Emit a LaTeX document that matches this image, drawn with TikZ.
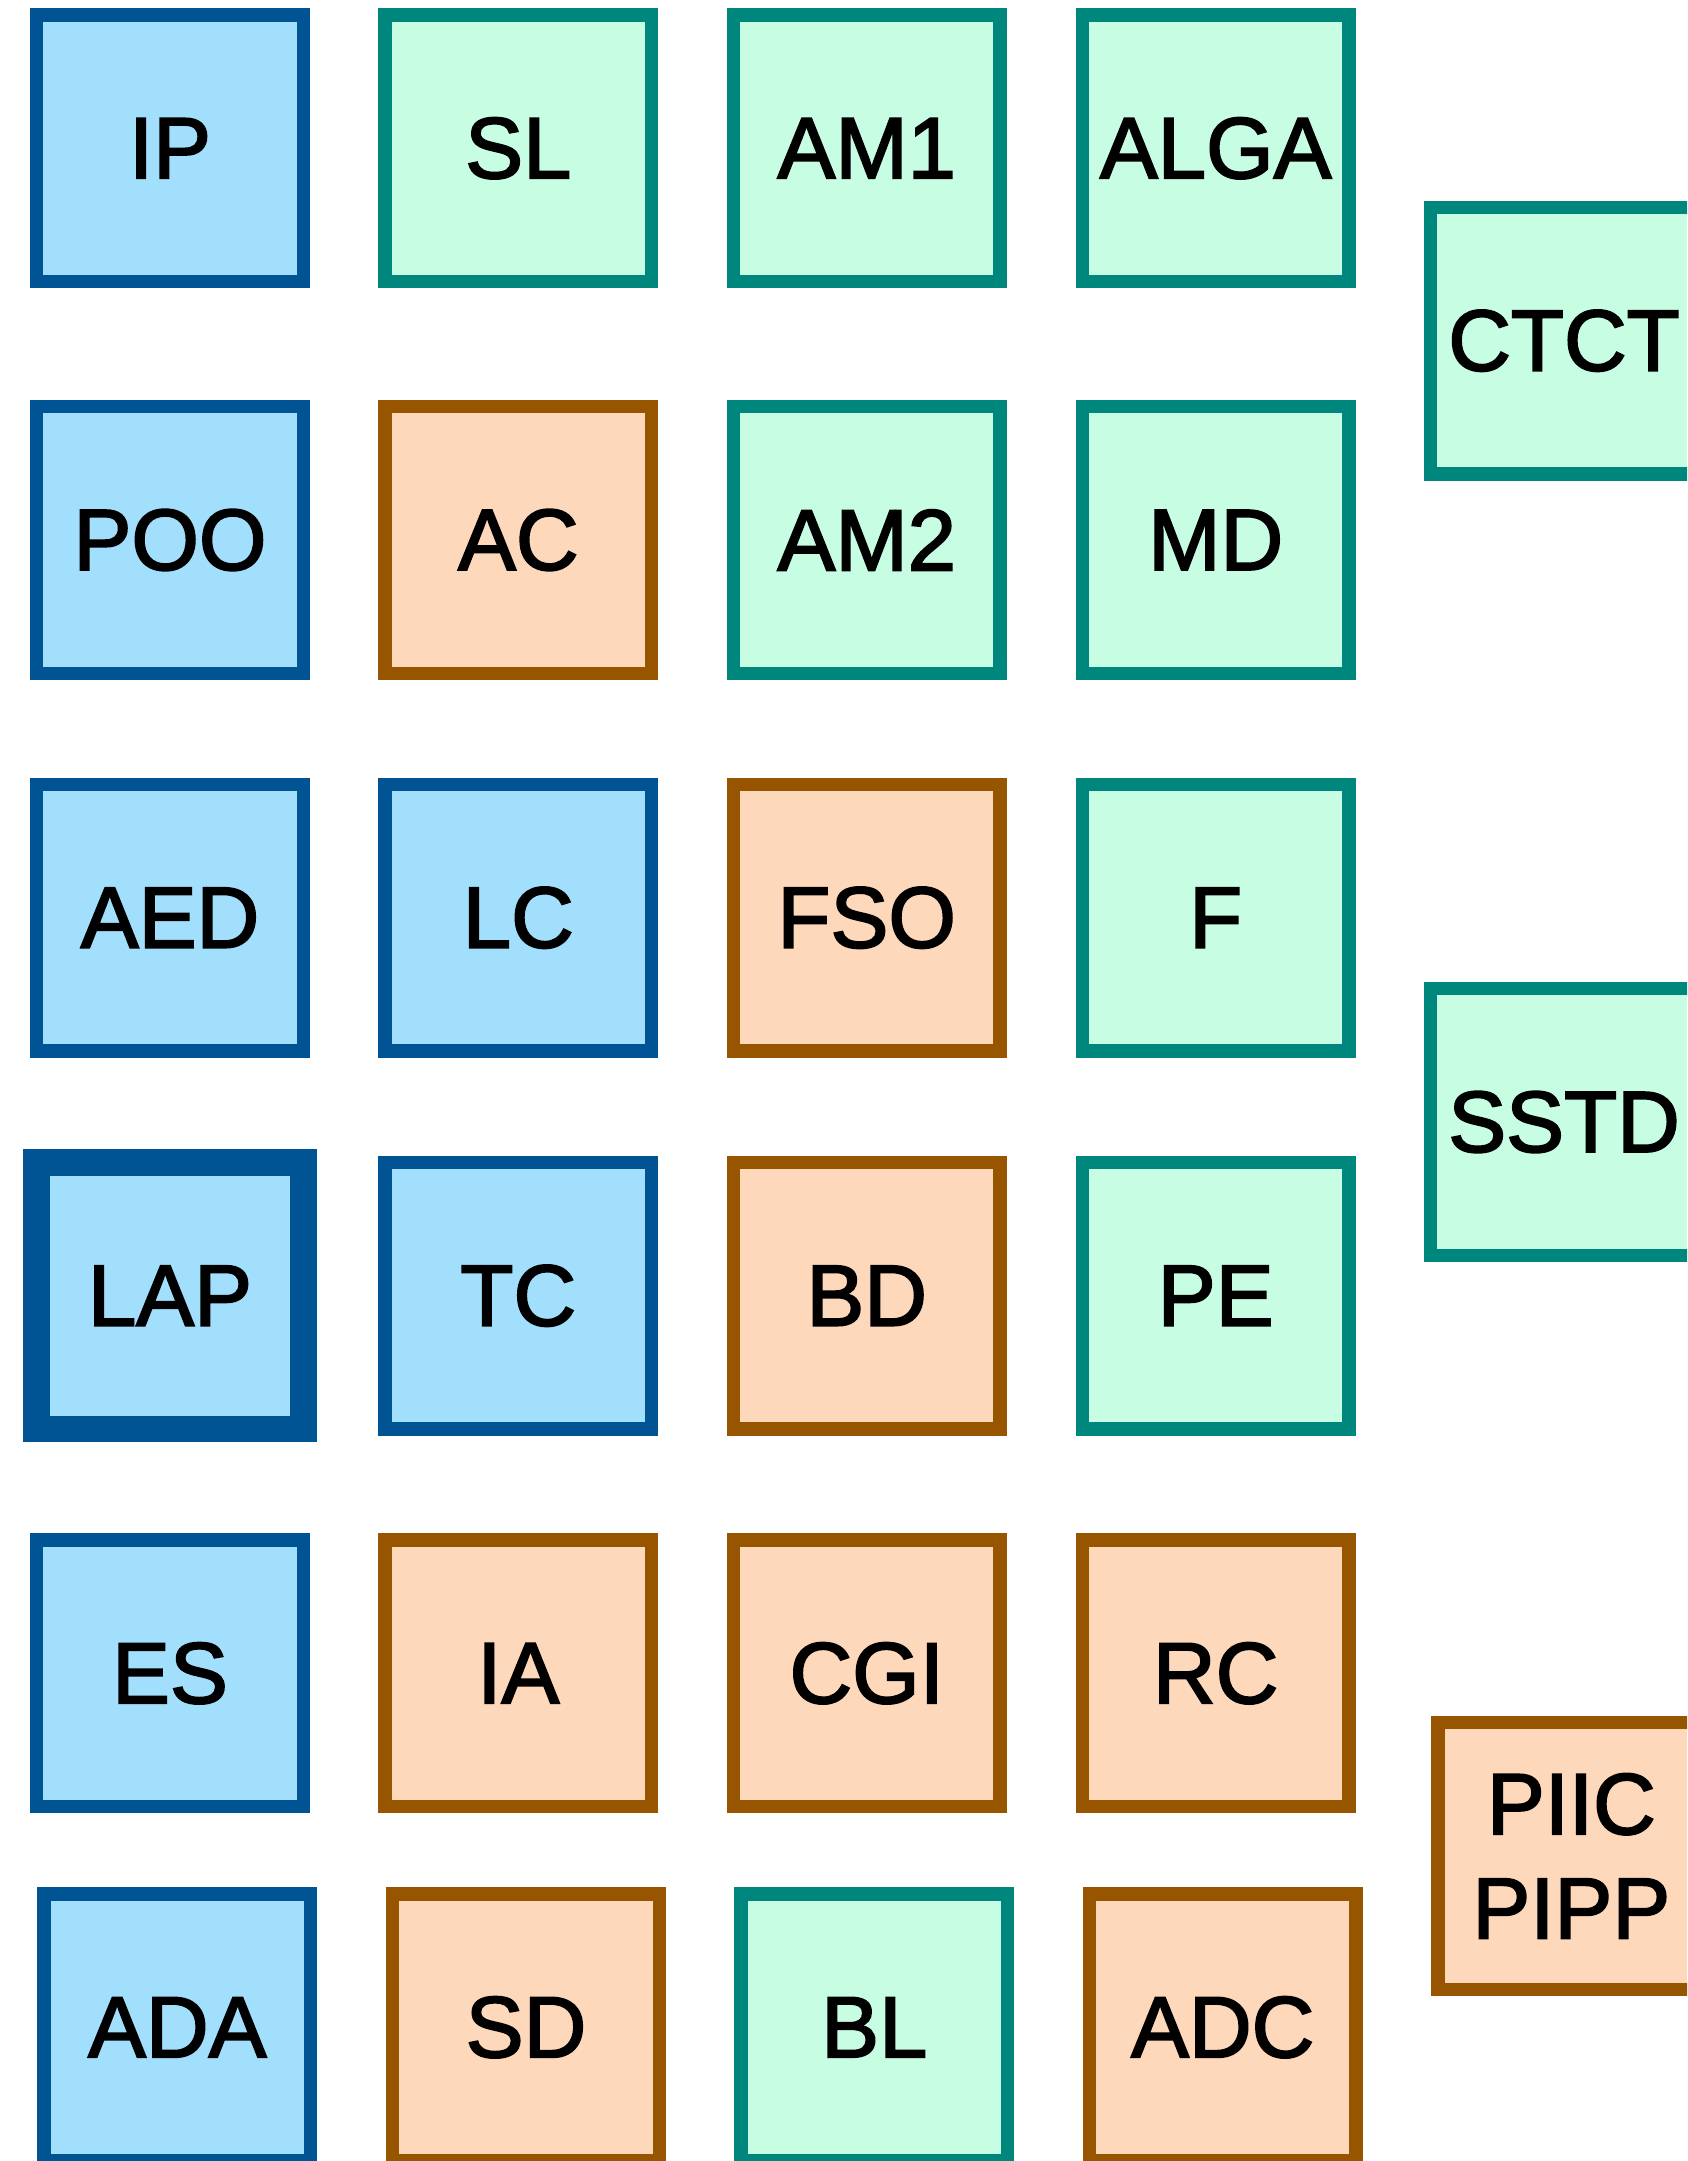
\documentclass[tikz,border=0pt]{standalone}
\usepackage{fontspec}
\setmainfont{Liberation Sans}
\newfontfamily\boxfont{Liberation Sans}[BoldFont={Liberation Sans}, BoldFeatures={FakeBold=2.2}]
\definecolor{bluefill}{HTML}{A2DFFC}
\definecolor{blueline}{HTML}{005493}
\definecolor{greenfill}{HTML}{C6FDE3}
\definecolor{greenline}{HTML}{00877D}
\definecolor{orangefill}{HTML}{FED8BB}
\definecolor{orangeline}{HTML}{975500}
\tikzset{
  box/.style={draw, rectangle, inner sep=0pt, minimum width=133.35pt, minimum height=133.35pt,
    line width=6.67pt, align=center, font=\boxfont\bfseries\fontsize{43.4}{52.2}\selectfont, text=black},
  bluebox/.style={box, fill=bluefill, draw=blueline},
  greenbox/.style={box, fill=greenfill, draw=greenline},
  orangebox/.style={box, fill=orangefill, draw=orangeline},
  thickbox/.style={line width=13.33pt},
}
\begin{document}
\begin{tikzpicture}[x=0.5pt,y=-0.5pt]
\useasboundingbox (0,0) rectangle (1687,2161);
\clip (0,0) rectangle (1687,2161);
% row 1
\node[bluebox]   (IP)   at (170,148.3)   {IP};
\node[greenbox]  (SL)   at (518.3,148.3) {SL};
\node[greenbox]  (AM1)  at (866.7,148.3) {AM1};
\node[greenbox]  (ALGA) at (1215.7,148.3) {ALGA};
\node[greenbox]  (CTCT) at (1564,340.7)  {CTCT};
% row 2
\node[bluebox]   (POO)  at (170,540)     {POO};
\node[orangebox] (AC)   at (518.3,540)   {AC};
\node[greenbox]  (AM2)  at (866.7,540)   {AM2};
\node[greenbox]  (MD)   at (1215.7,540)  {MD};
% row 3
\node[bluebox]   (AED)  at (170,917.7)   {AED};
\node[bluebox]   (LC)   at (518.3,917.7) {LC};
\node[orangebox] (FSO)  at (866.7,917.7) {FSO};
\node[greenbox]  (F)    at (1215.7,917.7) {F};
\node[greenbox]  (SSTD) at (1564,1122)   {SSTD};
% row 4
\node[bluebox,thickbox] (LAP) at (170,1295.7) {LAP};
\node[bluebox]   (TC)   at (518.3,1295.7) {TC};
\node[orangebox] (BD)   at (866.7,1295.7) {BD};
\node[greenbox]  (PE)   at (1215.7,1295.7) {PE};
% row 5
\node[bluebox]   (ES)   at (170,1673.3)   {ES};
\node[orangebox] (IA)   at (518.3,1673.3) {IA};
\node[orangebox] (CGI)  at (866.7,1673.3) {CGI};
\node[orangebox] (RC)   at (1215.7,1673.3) {RC};
\node[orangebox] (PIIC) at (1571.3,1856)  {PIIC\\PIPP};
% row 6
\node[bluebox]   (ADA)  at (177.3,2027.3) {ADA};
\node[orangebox] (SD)   at (526,2027.3)   {SD};
\node[greenbox]  (BL)   at (874.3,2027.3) {BL};
\node[orangebox] (ADC)  at (1222.7,2027.3) {ADC};
\end{tikzpicture}
\end{document}
